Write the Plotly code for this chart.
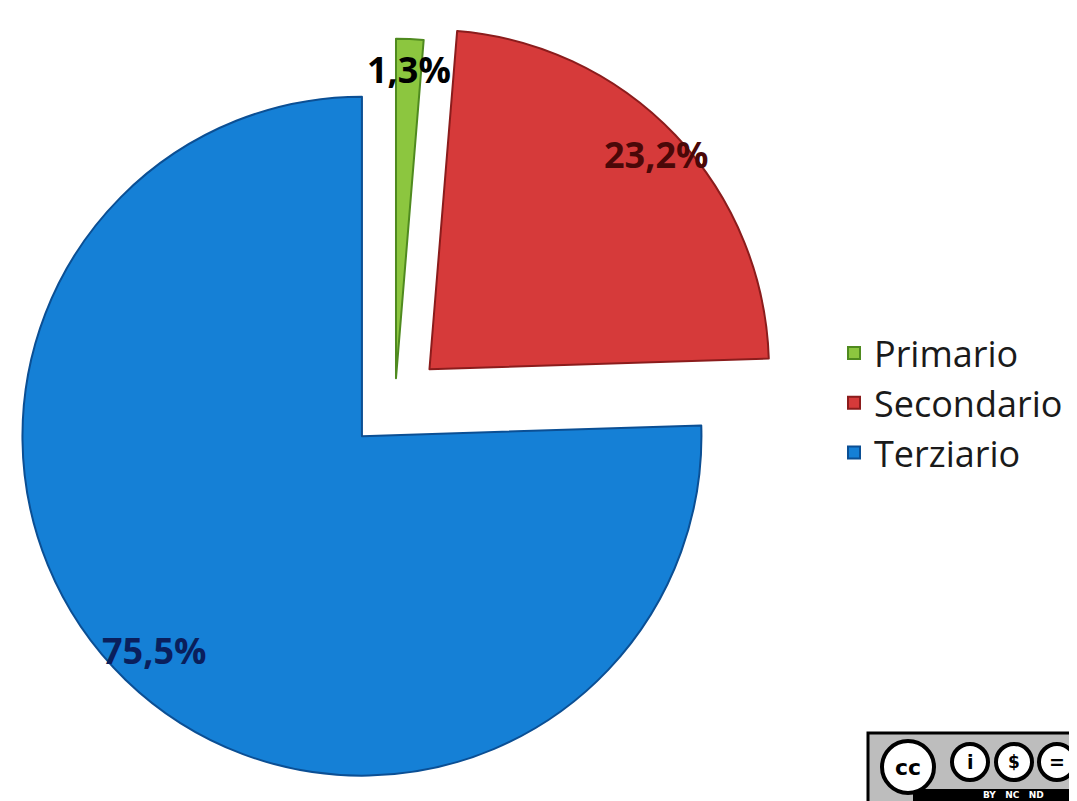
import plotly.graph_objects as go
import math

# ---- data ----
labels = ["Primario", "Secondario", "Terziario"]
values = [1.3, 23.2, 75.5]
label_texts = ["1,3%", "23,2%", "75,5%"]

colors = ["#8cc63f", "#d63a3a", "#1580d6"]
line_colors = ["#4f8a1f", "#8b1c1c", "#0b4f94"]
label_colors = ["#000000", "#4a0808", "#0a1f5c"]
pulls = [0.07, 0.14, 0.14]

W, H = 1077, 801
dom_x = [0.0, 0.7187]
dom_y = [0.0162, 1.0]

fig = go.Figure()
fig.add_trace(go.Pie(
    labels=labels,
    values=values,
    sort=False,
    direction="clockwise",
    rotation=0,
    pull=pulls,
    marker=dict(colors=colors, line=dict(color=line_colors, width=2)),
    textinfo="none",
    hoverinfo="label+percent",
    domain=dict(x=dom_x, y=dom_y),
    showlegend=True,
))

# label placement derived from the pie geometry (same rule plotly uses)
box = min(W * (dom_x[1] - dom_x[0]), H * (dom_y[1] - dom_y[0]))
r = box / (2 + 2 * max(pulls))
cx = W * (dom_x[0] + dom_x[1]) / 2
cy = H * (1 - (dom_y[0] + dom_y[1]) / 2)
total = sum(values)
cum = 0.0
label_k = [0.91, 0.92, 0.88]
for i, v in enumerate(values):
    mid = (cum + v / 2) / total * 2 * math.pi
    cum += v
    dx, dy = math.sin(mid), -math.cos(mid)
    dist = pulls[i] * r + label_k[i] * r
    px = cx + dx * dist
    py = cy + dy * dist
    fig.add_annotation(
        x=px / W, y=1 - py / H, xref="paper", yref="paper",
        text="<b>%s</b>" % label_texts[i], showarrow=False,
        font=dict(family="Open Sans", size=36, color=label_colors[i]),
        xanchor="center", yanchor="middle",
    )

# CC licence badge (decoration, bottom-right)
fig.add_shape(type="rect", xref="paper", yref="paper",
              x0=860 / W, x1=1.02, y0=-0.02, y1=1 - 725 / H,
              fillcolor="#bdbdbd", line=dict(color="#000000", width=3))
fig.add_shape(type="rect", xref="paper", yref="paper",
              x0=905 / W, x1=1.02, y0=-0.02, y1=1 - 781 / H,
              fillcolor="#000000", line=dict(color="#000000", width=0))
badge = [(900, 759, 26, "cc", 22), (962, 754, 18, "i", 19), (1006, 754, 18, "$", 17), (1049, 754, 18, "=", 19)]
for (bx, by, br, t, fs) in badge:
    fig.add_shape(type="circle", xref="paper", yref="paper",
                  x0=(bx - br) / W, x1=(bx + br) / W,
                  y0=1 - (by + br) / H, y1=1 - (by - br) / H,
                  fillcolor="#ffffff", line=dict(color="#000000", width=4))
    fig.add_annotation(x=bx / W, y=1 - by / H, xref="paper", yref="paper",
                       text="<b>%s</b>" % t, showarrow=False,
                       xanchor="center", yanchor="middle",
                       font=dict(family="DejaVu Sans", size=fs, color="#000000"))
fig.add_annotation(x=1005 / W, y=1 - 787 / H, xref="paper", yref="paper",
                   text="<b>BY   NC   ND</b>", showarrow=False,
                   xanchor="center", yanchor="middle",
                   font=dict(family="DejaVu Sans", size=9, color="#ffffff"))

fig.update_layout(
    width=W, height=H,
    margin=dict(l=0, r=0, t=0, b=0),
    paper_bgcolor="#ffffff",
    plot_bgcolor="#ffffff",
    legend=dict(
        x=826 / W, y=1 - 395 / H, xanchor="left", yanchor="middle",
        font=dict(family="Open Sans", size=36, color="#1a1a1a"),
        bgcolor="rgba(0,0,0,0)", itemclick=False, itemdoubleclick=False,
    ),
)

fig.write_html("out.html")
